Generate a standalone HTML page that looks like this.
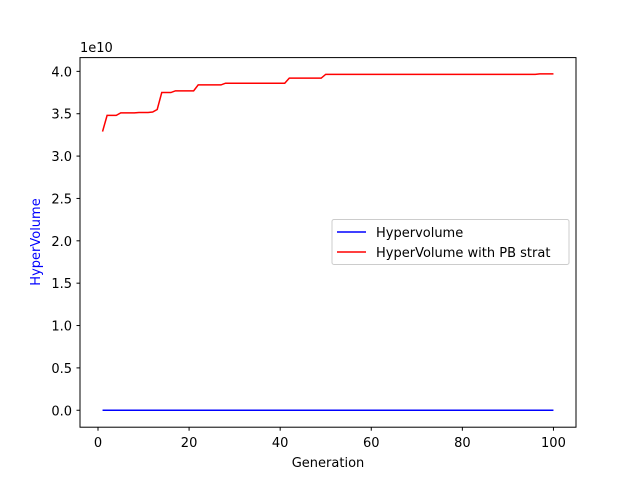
<!DOCTYPE html>
<html><head><meta charset="utf-8"><style>
body{margin:0;background:#fff}
svg text{font-family:"DejaVu Sans","Liberation Sans",sans-serif;font-size:13px;fill:#000}
</style></head><body>
<svg width="640" height="480">
<rect x="0" y="0" width="640" height="480" fill="#fff"/>
<g id="plot"></g>
<rect x="80" y="57.6" width="496" height="369.6" fill="none" stroke="#000" stroke-width="1"/>
<g id="ticks"></g>
<text x="80" y="52" font-size="13">1e10</text>
<text x="328" y="467" text-anchor="middle">Generation</text>
<text x="40" y="242" text-anchor="middle" transform="rotate(-90 40 242)" style="fill:#0000ff">HyperVolume</text>
<g>
<rect x="332" y="219.5" width="237" height="45" rx="2" fill="#fff" fill-opacity="0.8" stroke="#ccc"/>
<g><line x1="337" y1="232" x2="366" y2="232" stroke="#0000ff" stroke-width="1.5"/><text x="376" y="237">Hypervolume</text></g>
<g><line x1="337" y1="252" x2="366" y2="252" stroke="#ff0000" stroke-width="1.5"/><text x="376" y="257">HyperVolume with PB strat</text></g>
</g>
</svg>
<script>
const generations=[];for(let g=1;g<=100;g++)generations.push(g);
const pbSteps=[[1,3.29],[2,3.48],[5,3.51],[9,3.515],[12,3.52],[13,3.55],[14,3.75],[17,3.77],[22,3.84],[28,3.86],[42,3.92],[50,3.965],[97,3.97]];
const pbValues=generations.map(g=>{let v=pbSteps[0][1];for(const s of pbSteps)if(g>=s[0])v=s[1];return v;});
const hvValues=generations.map(()=>0);
const xTicks=[0,20,40,60,80,100];
const yTicks=[0,0.5,1,1.5,2,2.5,3,3.5,4];
const xs=v=>80+(v+3.95)/108.9*496;
const ys=v=>57.6+(4.1625-v)/4.3625*369.6;
const NS="http://www.w3.org/2000/svg";
const plot=document.getElementById('plot'),ticks=document.getElementById('ticks');
function line(vals,color,name){const p=document.createElementNS(NS,'polyline');
p.setAttribute('points',generations.map((g,i)=>xs(g)+','+ys(vals[i])).join(' '));
p.setAttribute('fill','none');p.setAttribute('stroke',color);p.setAttribute('stroke-width','1.5');


plot.appendChild(p);}
line(hvValues,'#0000ff','hypervolume-line');
line(pbValues,'#ff0000','pb-strat-line');
xTicks.forEach(t=>{const x=xs(t);const l=document.createElementNS(NS,'line');
l.setAttribute('x1',x);l.setAttribute('x2',x);l.setAttribute('y1',427.2);l.setAttribute('y2',430.7);l.setAttribute('stroke','#000');


ticks.appendChild(l);
const tx=document.createElementNS(NS,'text');tx.setAttribute('x',x);tx.setAttribute('y',447);tx.setAttribute('text-anchor','middle');tx.textContent=t;


ticks.appendChild(tx);});
yTicks.forEach(t=>{const y=ys(t);const l=document.createElementNS(NS,'line');
l.setAttribute('x1',76.5);l.setAttribute('x2',80);l.setAttribute('y1',y);l.setAttribute('y2',y);l.setAttribute('stroke','#000');


ticks.appendChild(l);
const tx=document.createElementNS(NS,'text');tx.setAttribute('x',72);tx.setAttribute('y',y+5);tx.setAttribute('text-anchor','end');tx.textContent=t.toFixed(1);


ticks.appendChild(tx);});
</script>
</body></html>
